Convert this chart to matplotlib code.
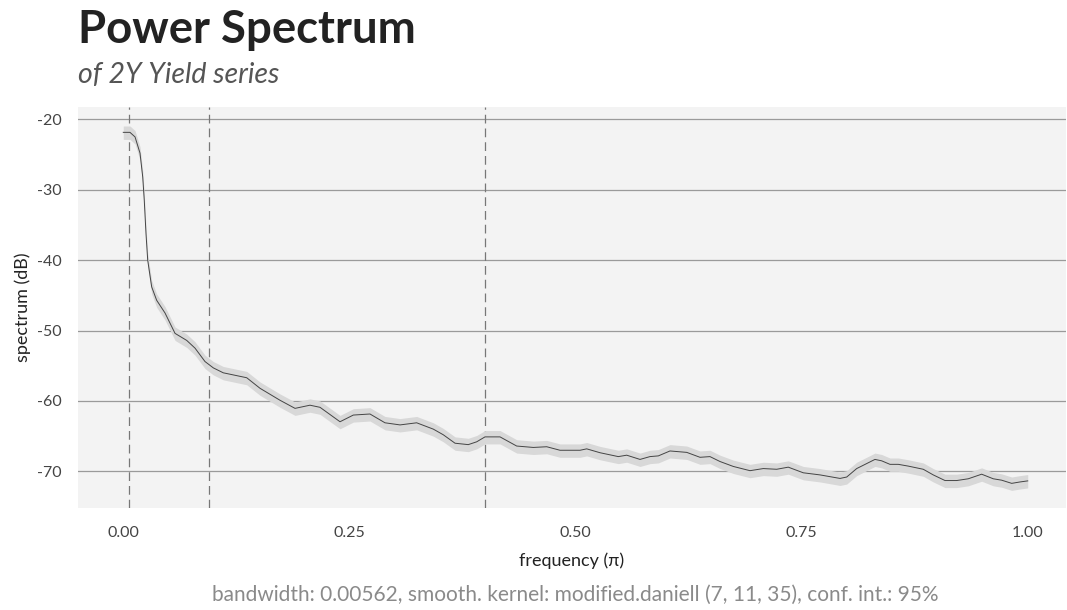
import matplotlib
matplotlib.use("Agg")
import matplotlib.pyplot as plt
import numpy as np

# Smoothed periodogram of the 2Y yield series (frequency in units of pi, spectrum in dB)
freq = [0.0003, 0.0077, 0.0133, 0.0188, 0.0218, 0.0235, 0.0254, 0.0273, 0.0317,
        0.0372, 0.0464, 0.0575, 0.0704, 0.0796, 0.0906, 0.0998, 0.1108, 0.1293,
        0.1367, 0.1514, 0.1735, 0.1901, 0.2066, 0.2177, 0.2398, 0.2545, 0.2729,
        0.2895, 0.3061, 0.3245, 0.3429, 0.3539, 0.3669, 0.3815, 0.3908, 0.4000,
        0.4166, 0.4350, 0.4534, 0.4682, 0.4829, 0.5050, 0.5124, 0.5271, 0.5473,
        0.5566, 0.5713, 0.5823, 0.5915, 0.6044, 0.6229, 0.6376, 0.6486, 0.6597,
        0.6744, 0.6928, 0.7075, 0.7223, 0.7351, 0.7517, 0.7702, 0.7923, 0.7997,
        0.8107, 0.8309, 0.8383, 0.8475, 0.8567, 0.8677, 0.8843, 0.8953, 0.9083,
        0.9212, 0.9340, 0.9488, 0.9616, 0.9709, 0.9820, 0.9912, 0.9997]
spec_db = [-21.85, -21.85, -22.5, -24.8, -28.2, -31.5, -36.2, -40.0, -43.8,
           -45.7, -47.5, -50.4, -51.4, -52.5, -54.4, -55.3, -56.0, -56.5,
           -56.7, -58.2, -59.9, -61.05, -60.6, -60.9, -62.95, -62.0, -61.85,
           -63.1, -63.4, -63.1, -64.0, -64.8, -66.0, -66.2, -65.8, -65.1,
           -65.1, -66.4, -66.6, -66.5, -67.0, -67.0, -66.8, -67.35, -67.9,
           -67.7, -68.3, -67.9, -67.8, -67.1, -67.3, -68.0, -67.9, -68.6,
           -69.3, -69.9, -69.6, -69.7, -69.4, -70.2, -70.5, -71.0, -70.8,
           -69.6, -68.3, -68.5, -69.0, -69.0, -69.25, -69.7, -70.5, -71.3,
           -71.3, -71.05, -70.4, -71.05, -71.25, -71.7, -71.5, -71.35]

# Confidence band half-widths (dB) for the 95% interval
ci_upper_db = 0.9
ci_lower_db = 1.0

# Reference frequencies marked on the plot
marked_freqs = [0.0066, 0.0946, 0.3995]

xticks = [0.00, 0.25, 0.50, 0.75, 1.00]
xtick_labels = ["0.00", "0.25", "0.50", "0.75", "1.00"]
yticks = [-20, -30, -40, -50, -60, -70]
ytick_labels = ["-20", "-30", "-40", "-50", "-60", "-70"]

plt.rcParams["font.family"] = ["Lato", "DejaVu Sans"]

W, H = 1067, 610
fig = plt.figure(figsize=(W / 100, H / 100), dpi=100)
ax = fig.add_axes([78 / W, 1 - 508 / H, (1066 - 78) / W, (508 - 107) / H])
ax.set_facecolor("#f3f3f3")

f = np.array(freq)
s = np.array(spec_db)
ax.fill_between(f, s - ci_lower_db, s + ci_upper_db, color="#d8d8d8", lw=0, zorder=2)
ax.plot(f, s, color="#444444", lw=0.7, zorder=3, solid_joinstyle="round")

for xv in marked_freqs:
    ax.axvline(xv, color="#777777", lw=0.9, ls=(0, (7, 4)), zorder=1.5)

ax.set_xlim((78 - 123) / 905, (1066 - 123) / 905)
ax.set_ylim(-75.2, -18.25)
ax.set_xticks(xticks, xtick_labels)
ax.set_yticks(yticks, ytick_labels)
ax.yaxis.grid(True, color="#9a9a9a", lw=0.9, zorder=1)
ax.xaxis.grid(False)
ax.set_axisbelow(True)
for sp in ax.spines.values():
    sp.set_visible(False)
ax.tick_params(axis="both", length=0, labelsize=11.5, labelcolor="#444444")
ax.tick_params(axis="x", pad=13)
ax.tick_params(axis="y", pad=12)

ax.set_xlabel("frequency (\u03c0)", fontsize=13, color="#222222", labelpad=9)
ax.set_ylabel("spectrum (dB)", fontsize=13, color="#222222", labelpad=4)

fig.text(78 / W, 1 - 30 / H, "Power Spectrum", fontsize=32.8, fontweight="bold",
         color="#222222", ha="left", va="center")
fig.text(78 / W, 1 - 75 / H, "of 2Y Yield series", fontsize=20.5, fontstyle="italic",
         color="#555555", ha="left", va="center")
fig.text(575 / W, 1 - 595 / H,
         "bandwidth: 0.00562, smooth. kernel: modified.daniell (7, 11, 35), conf. int.: 95%",
         fontsize=15, color="#8a8a8a", ha="center", va="center")

fig.savefig("out.png", dpi=100, facecolor="white")
